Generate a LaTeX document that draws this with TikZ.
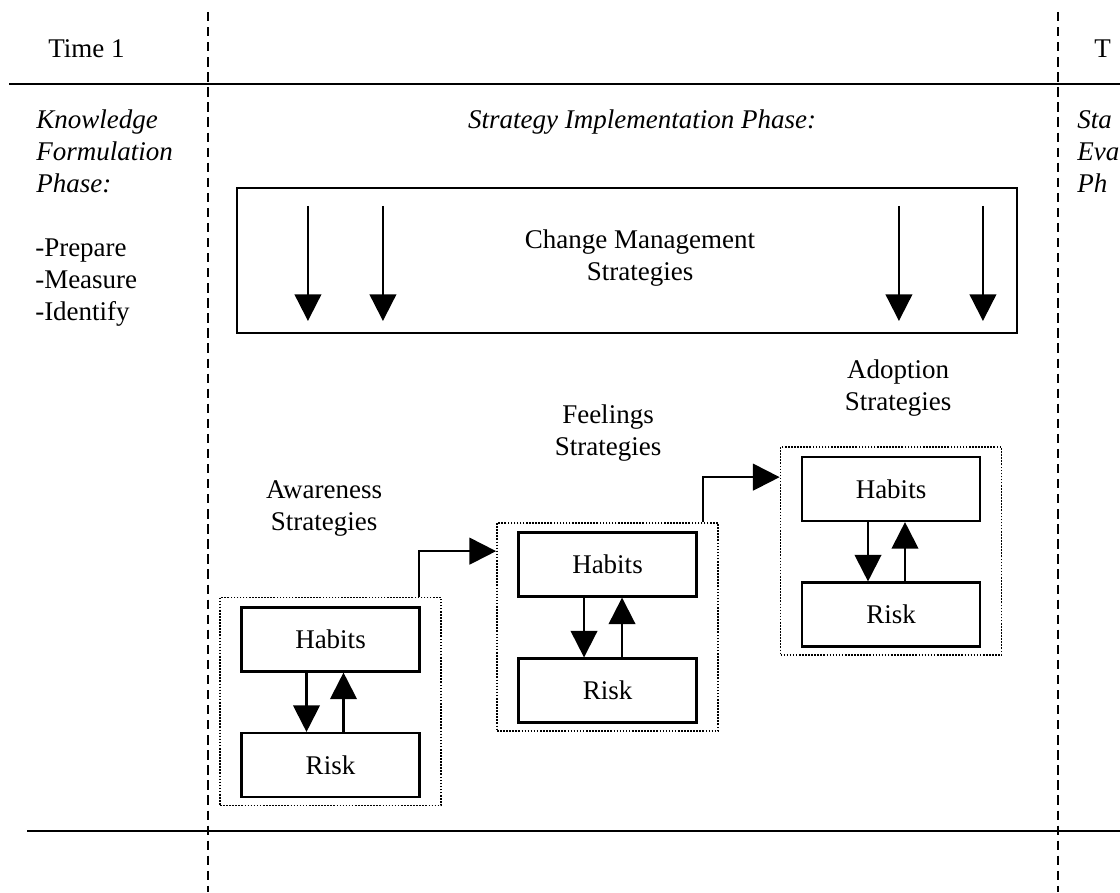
\documentclass[tikz,border=0pt]{standalone}
\usepackage{fontspec}
\setmainfont{Liberation Serif}
\usetikzlibrary{arrows.meta,calc}

% stacked lines whose baseline is that of the first line
\newcommand{\stacklines}[1]{\vtop{\halign{##\hfil\cr #1\crcr}}}
\newcommand{\centerlines}[1]{\vtop{\halign{\hfil##\hfil\cr #1\crcr}}}

\begin{document}
\begin{tikzpicture}[x=0.75pt,y=-0.75pt,
  every node/.style={font=\fontsize{20.25}{24}\selectfont, inner sep=0pt},
  rulebar/.style={line width=1.8pt},
  timedivider/.style={line width=1.7pt, dash pattern=on 7pt off 4.3pt},
  stratbox/.style={draw, line width=1.6pt, minimum width=133.5pt, minimum height=48pt},
  groupbox/.style={draw, line width=1.3pt, dash pattern=on 1.2pt off 1.1pt,
                   minimum width=165.75pt, minimum height=156pt},
  flow/.style={line width=1.6pt, -{Triangle[length=20pt,width=20pt]}},
]
\useasboundingbox (0,0) rectangle (1120,892);
\clip (0,0) rectangle (1120,892);

% time dividers and header rules
\coordinate (divLtop) at (208,12);
\coordinate (divLbot) at (208,892);
\coordinate (divRtop) at (1058,12);
\coordinate (divRbot) at (1058,892);
\draw[timedivider] (divLtop) -- (divLbot);
\draw[timedivider] (divRtop) -- (divRbot);
\coordinate (ruleTl) at (9,84);
\coordinate (ruleTr) at (1120,84);
\coordinate (ruleBl) at (27,831);
\coordinate (ruleBr) at (1120,831);
\draw[rulebar] (ruleTl) -- (ruleTr);
\draw[rulebar] (ruleBl) -- (ruleBr);

% column headings
\node[anchor=base west] (time1) at (48,58) {Time 1};
\node[anchor=base west] (time2) at (1094,58) {T};
\node[anchor=base west] (kfphase) at (36,128) {\itshape\stacklines{Knowledge\cr Formulation\cr Phase:}};
\node[anchor=base west] (kfsteps) at (35,256) {\stacklines{-Prepare\cr -Measure\cr -Identify}};
\node[anchor=base] (implphase) at (642,128) {\itshape Strategy Implementation Phase:};
\node[anchor=base west] (evalphase) at (1077,128) {\itshape\stacklines{Sta\cr Eva\cr Ph}};

% change management strategies
\node[draw, line width=1.6pt, minimum width=585pt, minimum height=108.75pt] (cm) at (627,260.5) {};
\node[anchor=base] (cmtext) at (640,248) {\centerlines{Change Management\cr Strategies}};
\foreach \i/\dx in {1/72,2/147,3/663,4/747} {
  \coordinate (cmin\i) at ($(cm.north west)+(\dx,19)$);
  \coordinate (cmout\i) at ($(cm.north west)+(\dx,134)$);
  \draw[flow] (cmin\i) -- (cmout\i);
}

% awareness strategies
\node[groupbox] (grpA) at (330.5,701.5) {};
\node[stratbox] (habA) at (330.5,639.5) {Habits};
\node[stratbox] (riskA) at (330.5,765) {Risk};
\draw[flow] ([xshift=-18pt]habA.south) -- ([xshift=-18pt]riskA.north);
\draw[flow] ([xshift=9.75pt]riskA.north) -- ([xshift=9.75pt]habA.south);
\node[anchor=base] (lblA) at (324,498) {\centerlines{Awareness\cr Strategies}};

% feelings strategies
\node[groupbox] (grpF) at (607.5,627) {};
\node[stratbox] (habF) at (607.5,564.5) {Habits};
\node[stratbox] (riskF) at (607.5,690.5) {Risk};
\draw[flow] ([xshift=-17.6pt]habF.south) -- ([xshift=-17.6pt]riskF.north);
\draw[flow] ([xshift=10.9pt]riskF.north) -- ([xshift=10.9pt]habF.south);
\node[anchor=base] (lblF) at (608,423) {\centerlines{Feelings\cr Strategies}};

% adoption strategies
\node[groupbox] (grpD) at (891,551) {};
\node[stratbox] (habD) at (891,489) {Habits};
\node[stratbox] (riskD) at (891,614.5) {Risk};
\draw[flow] ([xshift=-17.25pt]habD.south) -- ([xshift=-17.25pt]riskD.north);
\draw[flow] ([xshift=10.5pt]riskD.north) -- ([xshift=10.5pt]habD.south);
\node[anchor=base] (lblD) at (898,378) {\centerlines{Adoption\cr Strategies}};

% progression between stages
\draw[flow] ([xshift=66.4pt]grpA.north) |- ([yshift=-21.75pt]grpF.north west);
\draw[flow] ([xshift=71.6pt]grpF.north) |- ([yshift=-23.25pt]grpD.north west);
\end{tikzpicture}
\end{document}
